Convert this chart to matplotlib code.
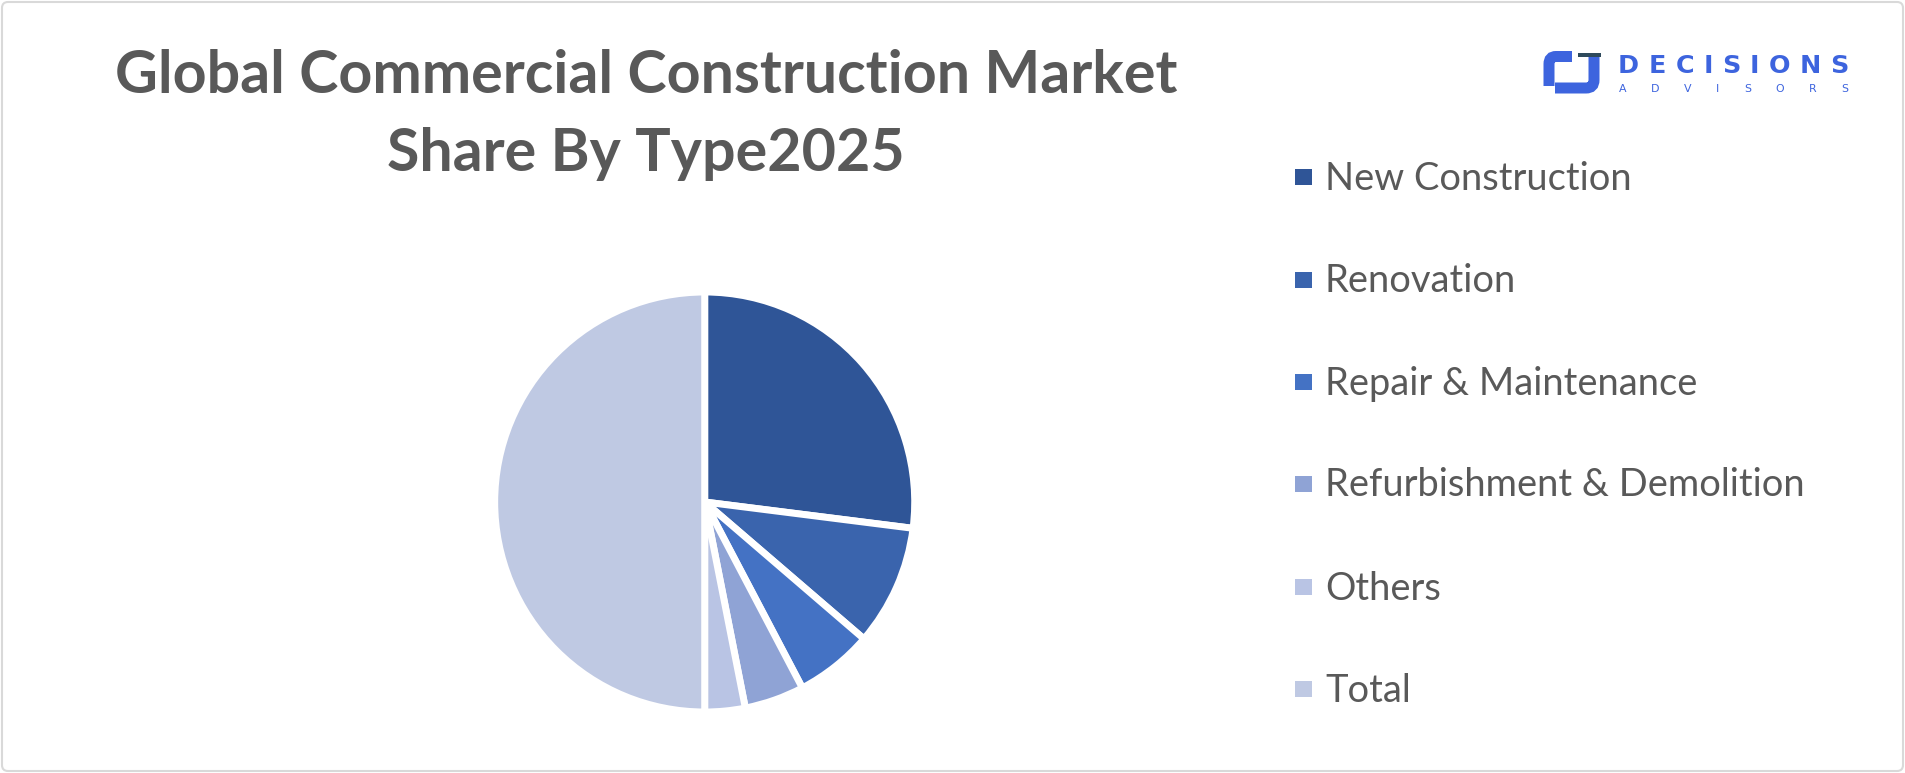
import matplotlib
matplotlib.use("Agg")
import matplotlib.pyplot as plt
from matplotlib import font_manager
from matplotlib.patches import Rectangle, FancyBboxPatch, PathPatch
from matplotlib.path import Path
from matplotlib.transforms import IdentityTransform

# ---------------- data ----------------
categories = ["New Construction", "Renovation", "Repair & Maintenance",
              "Refurbishment & Demolition", "Others", "Total"]
shares = [54.0, 18.6, 12.0, 9.2, 6.2, 100.0]
colors = ["#2F5597", "#3A64AD", "#4472C4", "#8FA3D5", "#B9C4E4", "#BFC9E3"]
title_lines = ["Global Commercial Construction Market", "Share By Type2025"]

W, H = 1905, 773
fig = plt.figure(figsize=(W / 100, H / 100), dpi=100)
fig.patch.set_facecolor("white")
renderer = fig.canvas.get_renderer()
ID = IdentityTransform()


def has_font(name):
    try:
        font_manager.findfont(font_manager.FontProperties(family=name), fallback_to_default=False)
        return True
    except Exception:
        return False


def fit_size(text, target_px, **kw):
    t = fig.text(0, 0, text, fontsize=40, **kw)
    w = t.get_window_extent(renderer).width
    t.remove()
    return 40 * target_px / w


def px(x, ytop):
    return (x, H - ytop)


# border
fig.patches.append(FancyBboxPatch((2, 2), W - 4, H - 4,
                                  boxstyle="round,pad=0,rounding_size=6",
                                  transform=ID, fc="none", ec="#D9D9D9", lw=1.5))

# title
tfam = "Liberation Sans Narrow" if has_font("Liberation Sans Narrow") else "Lato"
tsize = fit_size(title_lines[0], 1064, family=tfam, weight="bold")
for line, base in zip(title_lines, [93, 171]):
    fig.text(646 / W, 1 - base / H, line, family=tfam, weight="bold",
             fontsize=tsize, color="#595959", ha="center", va="baseline")

# pie
cx, cy, r = 704.7, 502, 210
ax = fig.add_axes([(cx - r) / W, (H - cy - r) / H, 2 * r / W, 2 * r / H])
ax.pie(shares, colors=colors, startangle=90, counterclock=False,
       wedgeprops=dict(edgecolor="white", linewidth=5.0))
ax.set_xlim(-1, 1)
ax.set_ylim(-1, 1)
ax.axis("off")

# legend
lfam = "Lato"
lsize = fit_size("Refurbishment & Demolition", 480, family=lfam)
rows = [177, 280, 382, 484, 587, 689]
for lab, col, yc in zip(categories, colors, rows):
    fig.patches.append(Rectangle(px(1295, yc + 8.3), 16.6, 16.6, transform=ID,
                                 fc=col, ec="none"))
    fig.text(1325 / W, 1 - (yc + 12.5) / H, lab, family=lfam, fontsize=lsize,
             color="#595959", ha="left", va="baseline")

# logo
blue = "#3D64DE"


def spaced(text, x0, x1, base, size, weight, family):
    widths = []
    for ch in text:
        t = fig.text(0, 0, ch, fontsize=size, weight=weight, family=family)
        widths.append(t.get_window_extent(renderer).width)
        t.remove()
    gap = (x1 - x0 - sum(widths)) / (len(text) - 1)
    x = x0
    for ch, w in zip(text, widths):
        fig.text(x / W, 1 - base / H, ch, fontsize=size, weight=weight, family=family,
                 color=blue, ha="left", va="baseline")
        x += w + gap


spaced("DECISIONS", 1618, 1849, 73, 18.5 / 0.73 * 0.72, "heavy", "DejaVu Sans")
spaced("ADVISORS", 1619, 1848, 92.5, 8 / 0.73 * 0.72, "normal", "DejaVu Sans")

lw_pt = 11 / 1.389
left = Path([px(1572, 56.5), px(1556, 56.5), px(1549, 56.5), px(1549, 64), px(1549, 86)],
            [Path.MOVETO, Path.LINETO, Path.CURVE3, Path.CURVE3, Path.LINETO])
fig.patches.append(PathPatch(left, transform=ID, fc="none", ec=blue, lw=lw_pt, capstyle="butt"))
hook = Path([px(1594, 55), px(1594, 80), px(1594, 88), px(1586, 88), px(1555, 88)],
            [Path.MOVETO, Path.LINETO, Path.CURVE3, Path.CURVE3, Path.LINETO])
fig.patches.append(PathPatch(hook, transform=ID, fc="none", ec=blue, lw=lw_pt, capstyle="butt"))
fig.patches.append(Rectangle(px(1578, 57), 23, 4.5, transform=ID, fc="#2E4A5C", ec="none"))

fig.savefig("out.png", dpi=100, facecolor="white")
